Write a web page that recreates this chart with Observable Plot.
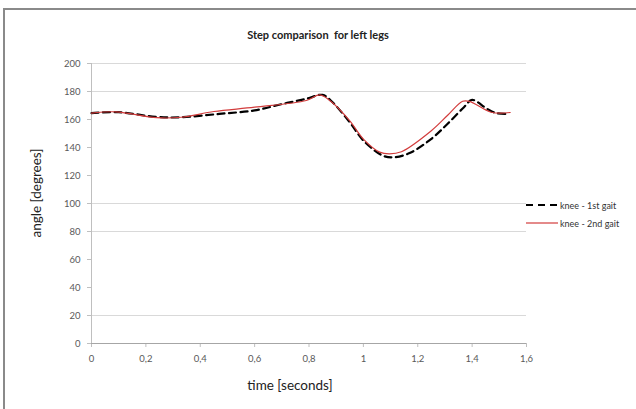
<!DOCTYPE html>
<html>
<head>
<meta charset="utf-8">
<script src="https://cdn.jsdelivr.net/npm/d3@7"></script>
<script src="https://cdn.jsdelivr.net/npm/@observablehq/plot@0.6"></script>
<style>
  html, body { margin: 0; padding: 0; background: #fff; }
  #wrap { position: relative; width: 636px; height: 409px; overflow: hidden; font-family: Lato, "Open Sans", sans-serif; }
  #frame { position: absolute; left: 3px; top: 8px; width: 700px; height: 500px; border-top: 2px solid #8a8a8a; border-left: 2px solid #8a8a8a; box-sizing: border-box; }
  #chart { position: absolute; left: 0; top: 0; }
  .txt { position: absolute; white-space: nowrap; color: #222; }
  #title { left: 0; width: 636px; top: 28px; text-align: center; font-weight: bold; font-size: 11px; }
  #ylab { left: 36px; top: 193px; font-size: 13.5px; transform: translate(-50%, -50%) rotate(-90deg); }
  #xlab { left: 290px; top: 385px; font-size: 13.5px; transform: translate(-50%, -50%); }
  #legend { position: absolute; left: 524px; top: 196px; font-size: 9px; color: #333; }
  .li { display: flex; align-items: center; height: 18px; }
  .li svg { margin-right: 2px; }
</style>
</head>
<body>
<div id="wrap">
  <div id="frame"></div>
  <div id="chart"></div>
  <div class="txt" id="title">Step comparison&nbsp; for left legs</div>
  <div class="txt" id="ylab">angle [degrees]</div>
  <div class="txt" id="xlab">time [seconds]</div>
  <div id="legend"></div>
</div>
<script>
// Data
const seriesNames = ["knee - 1st gait", "knee - 2nd gait"];
const time1 = [0, 0.1, 0.24, 0.33, 0.47, 0.6, 0.7, 0.79, 0.85, 0.88, 0.95, 1.0, 1.07, 1.11, 1.17, 1.25, 1.31, 1.37, 1.40, 1.455, 1.49, 1.535];
const angle1 = [164.5, 165.2, 161.8, 161.6, 164, 166.5, 171, 174.8, 177.6, 173.6, 158, 145, 134.3, 133, 136, 146.2, 157, 168.8, 174, 167.6, 164.5, 164];
const time2 = [0, 0.09, 0.24, 0.33, 0.45, 0.6, 0.79, 0.84, 0.88, 0.95, 1.0, 1.06, 1.095, 1.14, 1.25, 1.31, 1.365, 1.39, 1.47, 1.54];
const angle2 = [164.5, 165.5, 161.3, 161.6, 165.7, 168.8, 173.6, 177.6, 173, 159, 146, 136.7, 135.5, 137, 152, 163, 173, 173, 165.2, 165];
const xTicks = [0, 0.2, 0.4, 0.6, 0.8, 1, 1.2, 1.4, 1.6];
const yTicks = [0, 20, 40, 60, 80, 100, 120, 140, 160, 180, 200];
const gridLines = [20, 80, 100, 180, 200];

const gait1 = time1.map((t, i) => ({t, a: angle1[i]}));
const gait2 = time2.map((t, i) => ({t, a: angle2[i]}));
const fmt = d => String(d).replace(".", ",");

const plot = Plot.plot({
  width: 636,
  height: 409,
  marginLeft: 91,
  marginRight: 110,
  marginTop: 63,
  marginBottom: 66,
  style: {fontFamily: "Lato, 'Open Sans', sans-serif", fontSize: "9.5px", color: "#595959", background: "transparent"},
  x: {domain: [0, 1.6]},
  y: {domain: [0, 200]},
  marks: [
    Plot.ruleY(gridLines, {stroke: "#d9d9d9", strokeWidth: 1}),
    Plot.axisY({ticks: yTicks, tickSize: 4, tickPadding: 7, tickFormat: fmt, label: null, stroke: "#bfbfbf", fill: "#595959"}),
    Plot.axisX({ticks: xTicks, tickSize: 4, tickPadding: 8, tickFormat: fmt, label: null, stroke: "#bfbfbf", fill: "#595959"}),
    Plot.ruleX([0], {stroke: "#bfbfbf"}),
    Plot.ruleY([0], {stroke: "#a6a6a6"}),
    Plot.line(gait1, {x: "t", y: "a", curve: "catmull-rom", stroke: "#000", strokeWidth: 2.2, strokeDasharray: "7,4.5"}),
    Plot.line(gait2, {x: "t", y: "a", curve: "catmull-rom", stroke: "#d23c3c", strokeWidth: 1.2})
  ]
});
document.getElementById("chart").appendChild(plot);

const legend = document.getElementById("legend");
const styles = [
  {stroke: "#000", width: 2, dash: "7,5"},
  {stroke: "#d23c3c", width: 1.2, dash: null}
];
seriesNames.forEach((name, i) => {
  const s = styles[i];
  const row = document.createElement("div");
  row.className = "li";
  row.innerHTML = `<svg width="34" height="6"><line x1="2" y1="3" x2="34" y2="3" stroke="${s.stroke}" stroke-width="${s.width}" ${s.dash ? `stroke-dasharray="${s.dash}"` : ""}/></svg><span>${name}</span>`;
  legend.appendChild(row);
});
</script>
</body>
</html>
